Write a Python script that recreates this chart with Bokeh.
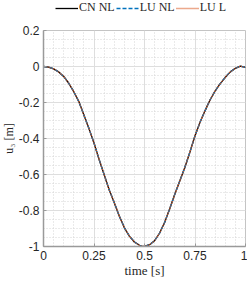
from bokeh.plotting import figure
from bokeh.layouts import column
from bokeh.models import FixedTicker, Legend, LegendItem, ColumnDataSource
from bokeh.embed import file_html
from bokeh.resources import INLINE

# ---- data ----
time = [0.0, 0.025, 0.05, 0.075, 0.10, 0.125, 0.15, 0.175, 0.20, 0.225, 0.25, 0.275,
        0.30, 0.325, 0.35, 0.375, 0.40, 0.425, 0.45, 0.475, 0.49, 0.50, 0.525, 0.55,
        0.575, 0.60, 0.625, 0.65, 0.675, 0.70, 0.725, 0.75, 0.775, 0.80, 0.825, 0.85,
        0.875, 0.90, 0.925, 0.95, 0.975, 1.0]
cn_nl = [0.0, -0.003, -0.013, -0.03, -0.055, -0.093, -0.14, -0.195, -0.27, -0.345, -0.425, -0.515,
         -0.60, -0.685, -0.755, -0.83, -0.895, -0.942, -0.975, -0.993, -1.0, -0.999, -0.99, -0.968,
         -0.925, -0.865, -0.79, -0.71, -0.635, -0.56, -0.475, -0.385, -0.31, -0.245, -0.185, -0.135,
         -0.095, -0.06, -0.03, -0.01, 0.002, -0.005]
lu_nl = [0.0, -0.003, -0.013, -0.03, -0.055, -0.093, -0.14, -0.195, -0.27, -0.345, -0.425, -0.515,
         -0.60, -0.685, -0.755, -0.83, -0.895, -0.942, -0.975, -0.993, -1.0, -0.999, -0.99, -0.968,
         -0.925, -0.865, -0.79, -0.71, -0.635, -0.56, -0.475, -0.385, -0.31, -0.245, -0.185, -0.135,
         -0.095, -0.06, -0.03, -0.01, 0.002, -0.005]
lu_l = [0.0, -0.003, -0.013, -0.03, -0.055, -0.093, -0.14, -0.195, -0.27, -0.345, -0.425, -0.515,
        -0.60, -0.685, -0.755, -0.83, -0.895, -0.942, -0.975, -0.993, -1.0, -0.999, -0.99, -0.968,
        -0.925, -0.865, -0.79, -0.71, -0.635, -0.56, -0.475, -0.385, -0.31, -0.245, -0.185, -0.135,
        -0.095, -0.06, -0.03, -0.01, 0.002, -0.005]
series_names = ["CN NL", "LU NL", "LU L"]
x_ticks = [0, 0.25, 0.5, 0.75, 1]
x_tick_labels = ["0", "0.25", "0.5", "0.75", "1"]
y_ticks = [0.2, 0, -0.2, -0.4, -0.6, -0.8, -1]
y_tick_labels = ["0.2", "0", "-0.2", "-0.4", "-0.6", "-0.8", "-1"]
x_minor = [i * 0.05 for i in range(21)]
y_minor = [0.2 - i * 0.05 for i in range(25)]

styles = [dict(line_color="black", line_width=1.3),
          dict(line_color="#0072BD", line_width=1.3, line_dash="4 2"),
          dict(line_color="#D95319", line_width=1.3, line_dash="1 1")]
cols = ["cn", "lunl", "lul"]

src = ColumnDataSource(dict(t=time, cn=cn_nl, lunl=lu_nl, lul=lu_l))

# ---- main plot ----
p = figure(width=249, height=265, output_backend="svg", toolbar_location=None,
           x_range=(0, 1), y_range=(-1, 0.2),
           min_border_left=43, min_border_right=2, min_border_top=13, min_border_bottom=36)
p.background_fill_color = "white"
p.border_fill_color = "white"
p.outline_line_color = "#c4c4c4"
p.outline_line_width = 1

for c, s in zip(cols, styles):
    p.line("t", c, source=src, **s)

for ax, ticks, labels, minor in ((p.xaxis[0], x_ticks, x_tick_labels, x_minor),
                                 (p.yaxis[0], y_ticks, y_tick_labels, y_minor)):
    ax.ticker = FixedTicker(ticks=ticks, minor_ticks=minor)
    ax.major_label_overrides = {t: l for t, l in zip(ticks, labels)}
    ax.major_label_text_font = "Liberation Sans"
    ax.major_label_text_font_size = "12px"
    ax.major_label_text_color = "#262626"
    ax.major_tick_in = 3
    ax.major_tick_out = 0
    ax.minor_tick_in = 0
    ax.minor_tick_out = 0
    ax.major_tick_line_color = "#9a9a9a"
    ax.axis_line_color = "#9a9a9a"
    ax.axis_line_width = 1.5
    ax.axis_label_text_font = "Liberation Serif"
    ax.axis_label_text_font_size = "13px"
    ax.axis_label_text_font_style = "normal"
    ax.axis_label_text_color = "#262626"
    ax.axis_label_standoff = 0
    ax.major_label_standoff = 4

p.xaxis.axis_label = "time [s]"
p.yaxis.axis_label = "u\u2083 [m]"
p.yaxis.axis_label_text_font_size = "12px"

for g in (p.xgrid[0], p.ygrid[0]):
    g.grid_line_color = "#dedede"
    g.grid_line_width = 1
    g.minor_grid_line_color = "#d4d4d4"
    g.minor_grid_line_dash = "1 2"
    g.minor_grid_line_width = 1

# ---- legend strip above the plot (its own lines fall outside its view) ----
lf = figure(width=249, height=16, output_backend="svg", toolbar_location=None,
            x_range=(0, 1), y_range=(5, 6), x_axis_type=None, y_axis_type=None,
            min_border=0)
lf.outline_line_color = None
lf.grid.visible = False
lf.background_fill_color = "white"
lf.border_fill_color = "white"
keys = [lf.line("t", c, source=src, **s) for c, s in zip(cols, styles)]
legend = Legend(items=[LegendItem(label=n, renderers=[r]) for n, r in zip(series_names, keys)],
                orientation="horizontal", location=(12, 2),
                glyph_width=23, glyph_height=10, label_height=10, label_standoff=1,
                spacing=1, padding=0, margin=0,
                label_text_font="Liberation Serif", label_text_font_size="12px",
                label_text_color="#262626",
                border_line_color=None, background_fill_alpha=0)
lf.add_layout(legend, "center")

layout = column(lf, p, spacing=0)
layout.margin = (1, 0, 0, -2)

open("out.html", "w").write(file_html(layout, INLINE))
